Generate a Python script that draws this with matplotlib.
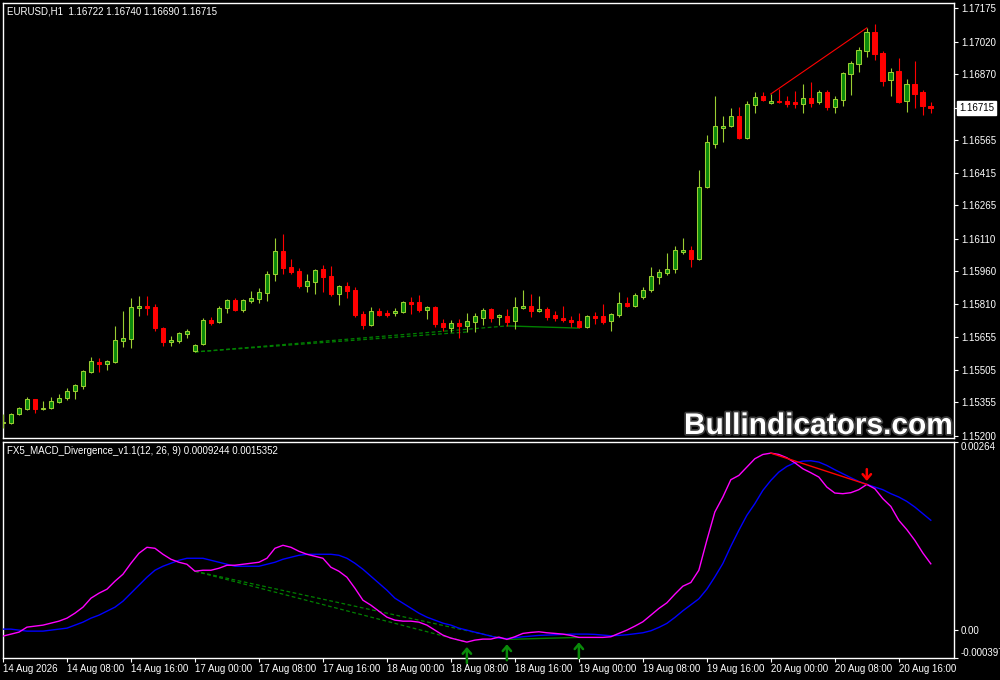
import matplotlib
matplotlib.use('Agg')
import matplotlib.pyplot as plt
import matplotlib.patheffects as pe
import matplotlib.transforms as mtransforms
import pandas as pd

# EURUSD H1 candles (oldest first)
opens = [
    1.15260, 1.15260, 1.15302, 1.15325, 1.15371, 1.15325, 1.15329, 1.15357, 1.15375, 1.15408,
    1.15431, 1.15495, 1.15541, 1.15532, 1.15541, 1.15638, 1.15648, 1.15791, 1.15800, 1.15795,
    1.15698, 1.15634, 1.15638, 1.15671, 1.15592, 1.15624, 1.15735, 1.15726, 1.15791, 1.15828,
    1.15781, 1.15823, 1.15832, 1.15860, 1.15947, 1.16054, 1.15980, 1.15961, 1.15892, 1.15911,
    1.15971, 1.15938, 1.15855, 1.15892, 1.15874, 1.15763, 1.15712, 1.15777, 1.15768, 1.15768,
    1.15772, 1.15818, 1.15818, 1.15781, 1.15795, 1.15721, 1.15698, 1.15721, 1.15708, 1.15726,
    1.15744, 1.15786, 1.15749, 1.15754, 1.15731, 1.15791, 1.15800, 1.15777, 1.15786, 1.15758,
    1.15744, 1.15735, 1.15731, 1.15703, 1.15754, 1.15754, 1.15731, 1.15758, 1.15814, 1.15800,
    1.15841, 1.15874, 1.15934, 1.15952, 1.15971, 1.16049, 1.16058, 1.16017, 1.16349, 1.16547,
    1.16621, 1.16630, 1.16676, 1.16575, 1.16727, 1.16769, 1.16736, 1.16746, 1.16746, 1.16741,
    1.16732, 1.16760, 1.16741, 1.16787, 1.16718, 1.16750, 1.16870, 1.16916, 1.16976, 1.17064,
    1.16967, 1.16843, 1.16884, 1.16746, 1.16824, 1.16787, 1.16722]

highs = [
    1.15302, 1.15306, 1.15334, 1.15380, 1.15373, 1.15361, 1.15380, 1.15394, 1.15421, 1.15440,
    1.15505, 1.15565, 1.15560, 1.15551, 1.15708, 1.15777, 1.15837, 1.15846, 1.15846, 1.15809,
    1.15703, 1.15661, 1.15680, 1.15694, 1.15624, 1.15744, 1.15749, 1.15800, 1.15832, 1.15837,
    1.15832, 1.15869, 1.15883, 1.15961, 1.16114, 1.16132, 1.16017, 1.15975, 1.15947, 1.15971,
    1.15989, 1.15984, 1.15897, 1.15911, 1.15887, 1.15777, 1.15795, 1.15791, 1.15781, 1.15791,
    1.15823, 1.15841, 1.15851, 1.15800, 1.15800, 1.15740, 1.15735, 1.15740, 1.15768, 1.15768,
    1.15791, 1.15791, 1.15763, 1.15786, 1.15841, 1.15874, 1.15855, 1.15846, 1.15795, 1.15777,
    1.15800, 1.15754, 1.15768, 1.15758, 1.15772, 1.15809, 1.15768, 1.15864, 1.15841, 1.15860,
    1.15887, 1.15980, 1.15971, 1.16044, 1.16077, 1.16114, 1.16077, 1.16427, 1.16589, 1.16769,
    1.16676, 1.16713, 1.16718, 1.16746, 1.16787, 1.16787, 1.16778, 1.16801, 1.16769, 1.16792,
    1.16824, 1.16833, 1.16796, 1.16796, 1.16769, 1.16880, 1.16930, 1.16995, 1.17083, 1.17101,
    1.16976, 1.16898, 1.16944, 1.16847, 1.16930, 1.16796, 1.16740]

lows = [
    1.15237, 1.15255, 1.15297, 1.15320, 1.15306, 1.15320, 1.15325, 1.15352, 1.15366, 1.15371,
    1.15417, 1.15491, 1.15495, 1.15505, 1.15536, 1.15611, 1.15606, 1.15754, 1.15758, 1.15684,
    1.15615, 1.15615, 1.15629, 1.15652, 1.15588, 1.15620, 1.15712, 1.15721, 1.15768, 1.15777,
    1.15772, 1.15814, 1.15814, 1.15823, 1.15915, 1.15947, 1.15947, 1.15883, 1.15864, 1.15855,
    1.15864, 1.15846, 1.15804, 1.15837, 1.15749, 1.15694, 1.15708, 1.15754, 1.15749, 1.15754,
    1.15768, 1.15763, 1.15772, 1.15740, 1.15703, 1.15684, 1.15680, 1.15652, 1.15680, 1.15680,
    1.15712, 1.15726, 1.15712, 1.15708, 1.15694, 1.15786, 1.15749, 1.15772, 1.15735, 1.15731,
    1.15726, 1.15703, 1.15698, 1.15698, 1.15717, 1.15717, 1.15684, 1.15749, 1.15795, 1.15795,
    1.15832, 1.15864, 1.15901, 1.15943, 1.15952, 1.16040, 1.15980, 1.16012, 1.16344, 1.16529,
    1.16557, 1.16626, 1.16570, 1.16570, 1.16690, 1.16746, 1.16732, 1.16736, 1.16718, 1.16713,
    1.16690, 1.16718, 1.16732, 1.16704, 1.16690, 1.16723, 1.16773, 1.16880, 1.16949, 1.16935,
    1.16815, 1.16769, 1.16736, 1.16695, 1.16713, 1.16681, 1.16690]

closes = [
    1.15265, 1.15302, 1.15329, 1.15371, 1.15325, 1.15329, 1.15361, 1.15375, 1.15408, 1.15435,
    1.15500, 1.15546, 1.15532, 1.15546, 1.15643, 1.15652, 1.15795, 1.15800, 1.15791, 1.15698,
    1.15634, 1.15643, 1.15675, 1.15684, 1.15620, 1.15735, 1.15721, 1.15791, 1.15828, 1.15781,
    1.15828, 1.15837, 1.15864, 1.15947, 1.16054, 1.15975, 1.15957, 1.15892, 1.15915, 1.15966,
    1.15934, 1.15855, 1.15892, 1.15869, 1.15758, 1.15712, 1.15777, 1.15758, 1.15758, 1.15777,
    1.15818, 1.15809, 1.15781, 1.15795, 1.15717, 1.15703, 1.15721, 1.15708, 1.15731, 1.15754,
    1.15781, 1.15744, 1.15758, 1.15726, 1.15795, 1.15800, 1.15777, 1.15786, 1.15749, 1.15744,
    1.15735, 1.15726, 1.15703, 1.15754, 1.15744, 1.15726, 1.15763, 1.15814, 1.15800, 1.15851,
    1.15874, 1.15938, 1.15957, 1.15971, 1.16058, 1.16058, 1.16017, 1.16349, 1.16557, 1.16630,
    1.16630, 1.16676, 1.16575, 1.16732, 1.16764, 1.16750, 1.16746, 1.16741, 1.16732, 1.16732,
    1.16760, 1.16736, 1.16787, 1.16718, 1.16755, 1.16875, 1.16921, 1.16981, 1.17064, 1.16963,
    1.16838, 1.16880, 1.16741, 1.16824, 1.16778, 1.16723, 1.16715]

# MACD(12, 26, 9) main line and signal line
macd_main = [
    -0.000090, -0.000062, -0.000034, 0.000036, 0.000050, 0.000064, 0.000092, 0.000120, 0.000162, 0.000232,
    0.000316, 0.000442, 0.000512, 0.000568, 0.000680, 0.000778, 0.000932, 0.001072, 0.001156, 0.001142,
    0.001058, 0.000988, 0.000946, 0.000918, 0.000820, 0.000834, 0.000834, 0.000862, 0.000904, 0.000904,
    0.000918, 0.000932, 0.000946, 0.001002, 0.001142, 0.001184, 0.001156, 0.001100, 0.001058, 0.001030,
    0.001002, 0.000876, 0.000820, 0.000736, 0.000582, 0.000414, 0.000344, 0.000260, 0.000176, 0.000134,
    0.000120, 0.000120, 0.000106, 0.000064, -0.000006, -0.000076, -0.000118, -0.000146, -0.000174, -0.000146,
    -0.000132, -0.000132, -0.000104, -0.000136, -0.000099, -0.000052, -0.000038, -0.000029, -0.000043, -0.000052,
    -0.000062, -0.000080, -0.000108, -0.000108, -0.000108, -0.000108, -0.000099, -0.000052, -0.000006, 0.000050,
    0.000111, 0.000204, 0.000298, 0.000377, 0.000498, 0.000610, 0.000662, 0.000834, 0.001254, 0.001651,
    0.001861, 0.002104, 0.002164, 0.002281, 0.002398, 0.002458, 0.002477, 0.002458, 0.002412, 0.002342,
    0.002258, 0.002202, 0.002141, 0.002001, 0.001917, 0.001908, 0.001922, 0.001964, 0.002038, 0.001978,
    0.001838, 0.001730, 0.001534, 0.001404, 0.001254, 0.001077, 0.0009244]

macd_signal = [
    0.000008, 0.000008, -0.000006, -0.000020, -0.000020, -0.000020, -0.000006, 0.000008, 0.000022, 0.000064,
    0.000106, 0.000162, 0.000204, 0.000260, 0.000316, 0.000400, 0.000512, 0.000624, 0.000736, 0.000834,
    0.000890, 0.000932, 0.000974, 0.001002, 0.001002, 0.001002, 0.000974, 0.000946, 0.000918, 0.000890,
    0.000890, 0.000890, 0.000890, 0.000918, 0.000946, 0.000988, 0.001016, 0.001044, 0.001058, 0.001058,
    0.001058, 0.001058, 0.001044, 0.001002, 0.000932, 0.000848, 0.000750, 0.000652, 0.000554, 0.000442,
    0.000372, 0.000302, 0.000232, 0.000176, 0.000134, 0.000092, 0.000064, 0.000022, -0.000006, -0.000034,
    -0.000062, -0.000090, -0.000118, -0.000125, -0.000113, -0.000099, -0.000090, -0.000080, -0.000076, -0.000071,
    -0.000066, -0.000062, -0.000062, -0.000062, -0.000066, -0.000076, -0.000085, -0.000080, -0.000071, -0.000057,
    -0.000043, -0.000015, 0.000032, 0.000088, 0.000172, 0.000265, 0.000349, 0.000433, 0.000568, 0.000741,
    0.000928, 0.001170, 0.001394, 0.001604, 0.001768, 0.001954, 0.002094, 0.002211, 0.002290, 0.002342,
    0.002365, 0.002370, 0.002351, 0.002304, 0.002244, 0.002188, 0.002132, 0.002080, 0.002038, 0.002001,
    0.001964, 0.001908, 0.001861, 0.001800, 0.001721, 0.001628, 0.0015352]

# trading days shown and how many hourly bars each has
days = ['2026-08-14', '2026-08-17', '2026-08-18', '2026-08-19', '2026-08-20']
bars_per_day = [24, 24, 24, 24, 21]

# divergences found by the indicator (bar index pairs)
bull_dashed = [(24, 58), (24, 63)]
bull_solid = [(63, 72)]
bear_solid = [(96, 108)]
up_arrows = [58, 63, 72]
down_arrows = [108]

price_ticks = [1.17175, 1.17020, 1.16870, 1.16565, 1.16415, 1.16265, 1.16110,
               1.15960, 1.15810, 1.15655, 1.15505, 1.15355, 1.15200]
price_range = (1.15191, 1.17200)
macd_range = (-0.000397, 0.00264)

BULL_EDGE = '#9acd32'
BULL_FILL = '#0b8a0b'
BEAR = '#ff0000'
DIV_GREEN = '#008000'

plt.rcParams['font.family'] = ['Liberation Sans', 'DejaVu Sans']


def px_rect(x0, y0, x1, y1):
    # figure is 1000x680 px, convert a pixel box (top-left origin) to a fig rect
    return [x0 / 1000, 1 - y1 / 680, (x1 - x0) / 1000, (y1 - y0) / 680]


def style_panel(a):
    a.set_facecolor('black')
    for s in a.spines.values():
        s.set_color('white')
        s.set_linewidth(1)
    a.set_xlim(-0.06, 118.9)
    a.yaxis.tick_right()
    a.tick_params(axis='both', colors='white', labelcolor='white', labelsize=7,
                  length=3, width=0.8, pad=2)


times = []
for d, n in zip(days, bars_per_day):
    times += list(pd.date_range(d, periods=n, freq='h'))
x = list(range(len(opens)))

fig = plt.figure(figsize=(10, 6.8), dpi=100, facecolor='black')
ax = fig.add_axes(px_rect(2.5, 2.5, 954, 438))
ax2 = fig.add_axes(px_rect(2.5, 441.5, 954, 658))
style_panel(ax)
style_panel(ax2)

# ******************* price panel *******************
up = [c >= o for o, c in zip(opens, closes)]
wick_cols = [BULL_EDGE if u else BEAR for u in up]
ax.vlines(x, lows, highs, colors=wick_cols, linewidth=0.8, zorder=3)
ax.bar(x, [abs(c - o) for o, c in zip(opens, closes)],
       bottom=[min(o, c) for o, c in zip(opens, closes)], width=0.58,
       color=[BULL_FILL if u else BEAR for u in up], edgecolor=wick_cols,
       linewidth=0.75, zorder=4)

for i, j in bull_dashed:
    ax.plot([i, j], [lows[i], lows[j]], color=DIV_GREEN, lw=0.9, ls=(0, (3, 2)), zorder=2)
for i, j in bull_solid:
    ax.plot([i, j], [lows[i], lows[j]], color=DIV_GREEN, lw=1, zorder=2)
for i, j in bear_solid:
    ax.plot([i, j], [highs[i], highs[j]], color=BEAR, lw=0.8, zorder=2)

ax.set_ylim(*price_range)
ax.set_yticks(price_ticks)
ax.set_yticklabels([f'{p:.5f}' for p in price_ticks])
ax.set_xticks([])
ax.annotate(f'{closes[-1]:.5f}', xy=(1, closes[-1]), xycoords=('axes fraction', 'data'),
            xytext=(3.5, 0), textcoords='offset points', va='center', ha='left',
            fontsize=7, color='black', annotation_clip=False,
            bbox=dict(boxstyle='square,pad=0.2', fc='white', ec='white'))
ax.plot([1, 1.004], [closes[-1], closes[-1]], color='white', lw=0.8,
        transform=mtransforms.blended_transform_factory(ax.transAxes, ax.transData),
        clip_on=False)

fig.text(7 / 1000, 1 - 11 / 680,
         f'EURUSD,H1  {opens[-1]:.5f} {highs[-1]:.5f} {lows[-1]:.5f} {closes[-1]:.5f}',
         color='white', fontsize=7, va='center', ha='left')
fig.text(684 / 1000, 1 - 434 / 680, 'Bullindicators.com', color='white', fontsize=21.5,
         fontweight='bold', ha='left', va='baseline', zorder=10,
         path_effects=[pe.withStroke(linewidth=2.5, foreground='#3c3c3c')])

# ******************* MACD panel *******************
ax2.plot(x, macd_signal, color='#0000ff', lw=1, zorder=3)
ax2.plot(x, macd_main, color='#ff00ff', lw=1, zorder=4)
for i, j in bull_dashed:
    ax2.plot([i, j], [macd_main[i], macd_main[j]], color=DIV_GREEN, lw=0.9, ls=(0, (3, 2)), zorder=2)
for i, j in bull_solid:
    ax2.plot([i, j], [macd_main[i], macd_main[j]], color=DIV_GREEN, lw=1, zorder=2)
for i, j in bear_solid:
    ax2.plot([i, j], [macd_main[i], macd_main[j]], color=BEAR, lw=1, zorder=5)

for i in up_arrows:
    ax2.annotate('', xy=(i, macd_main[i]), xytext=(0, -15), textcoords='offset points',
                 arrowprops=dict(arrowstyle='->,head_length=0.35,head_width=0.3',
                                 color='#0a8a0a', lw=1.8, shrinkA=0, shrinkB=3.5))
for i in down_arrows:
    ax2.annotate('', xy=(i, macd_main[i]), xytext=(0, 11), textcoords='offset points',
                 arrowprops=dict(arrowstyle='->,head_length=0.35,head_width=0.3',
                                 color=BEAR, lw=1.8, shrinkA=0, shrinkB=2.5))

ax2.set_ylim(*macd_range)
ax2.set_yticks([macd_range[0], 0.0, macd_range[1]])
ax2.set_yticklabels([f'{macd_range[0]:.6f}', '0.00', f'{macd_range[1]:.5f}'])
ylabs = ax2.get_yticklabels()
ylabs[0].set_va('bottom')
ylabs[-1].set_va('top')

tick_pos = x[::8]
tick_lab = []
for k in tick_pos:
    t = times[k]
    tick_lab.append(t.strftime('%d %b %Y') if k == 0 else t.strftime('%d %b %H:%M'))
ax2.set_xticks(tick_pos)
ax2.set_xticklabels(tick_lab, ha='left')
ax2.tick_params(axis='x', pad=1.5)

fig.text(7 / 1000, 1 - 451 / 680,
         f'FX5_MACD_Divergence_v1.1(12, 26, 9) {macd_main[-1]:.7f} {macd_signal[-1]:.7f}',
         color='white', fontsize=7, va='center', ha='left')

plt.savefig('out.png', dpi=100, facecolor='black')
